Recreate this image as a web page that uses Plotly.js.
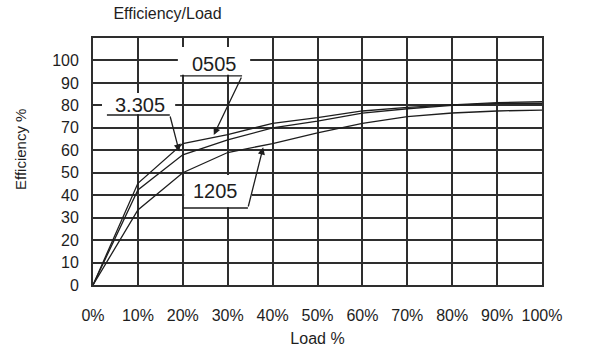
<!DOCTYPE html>
<html>
<head>
<meta charset="utf-8">
<script src="https://cdn.plot.ly/plotly-3.0.1.min.js"></script>
<style>html,body{margin:0;padding:0;background:#fff;}#chart{width:589px;height:351px;}</style>
</head>
<body>
<div id="chart"></div>
<script>
// Data
const load = [0, 10, 20, 30, 40, 50, 60, 70, 80, 90, 100];
const eff0505 = [0, 45.3, 63, 67, 72, 74.5, 77.5, 79.1, 80.2, 81.2, 81.6];
const eff3305 = [0, 42.3, 58, 64.6, 70, 73, 76.5, 78.5, 80, 80.9, 80.9];
const eff1205 = [0, 33.4, 50, 59, 63, 67.7, 72, 75, 76.6, 77.5, 77.9];
const seriesNames = ['0505', '3.305', '1205'];
const xTickVals = [0, 10, 20, 30, 40, 50, 60, 70, 80, 90, 100];
const xTickText = ['0%', '10%', '20%', '30%', '40%', '50%', '60%', '70%', '80%', '90%', '100%'];
const yTickVals = [0, 10, 20, 30, 40, 50, 60, 70, 80, 90, 100];

const font = 'Arial, "Liberation Sans", sans-serif';
const ink = '#1e1e1e';
const lineStyle = {color: ink, width: 1.3};

const traces = [eff0505, eff3305, eff1205].map((ys, i) => ({
  type: 'scatter', mode: 'lines', x: load, y: ys, name: seriesNames[i],
  line: lineStyle, hoverinfo: 'skip'
}));

const lineShape = (x0, y0, x1, y1) => ({type: 'line', xref: 'x', yref: 'y', x0, y0, x1, y1, line: {color: ink, width: 1.3}, layer: 'above'});
const whiteBox = (x0, y0, x1, y1) => ({type: 'rect', xref: 'x', yref: 'y', x0, y0, x1, y1, fillcolor: '#ffffff', line: {width: 0}, layer: 'above'});

const shapes = [
  whiteBox(18.9, 93.6, 35.0, 106),
  whiteBox(2.0, 76.0, 18.3, 85.5),
  whiteBox(20.3, 34.6, 35.4, 49.0),
  lineShape(19.4, 93.1, 33.2, 93.1),
  lineShape(3.1, 75.7, 17.1, 75.7),
  lineShape(20.0, 34.3, 34.5, 34.3)
];

const labelAnn = (text, x, y) => ({text, x, y, xref: 'x', yref: 'y', showarrow: false, font: {family: font, size: 20, color: ink}, xanchor: 'center', yanchor: 'middle'});
const arrowAnn = (x, y, ax, ay) => ({text: '', x, y, ax, ay, xref: 'x', yref: 'y', axref: 'x', ayref: 'y', showarrow: true, arrowhead: 2, arrowsize: 1.1, arrowwidth: 1.3, arrowcolor: ink, standoff: 0, startstandoff: 0});

const annotations = [
  labelAnn(seriesNames[0], 27.0, 98.4),
  labelAnn(seriesNames[1], 10.5, 80.0),
  labelAnn(seriesNames[2], 27.3, 42.0),
  arrowAnn(26.9, 66.8, 33.2, 93.1),
  arrowAnn(19.2, 59.5, 17.1, 75.7),
  arrowAnn(37.9, 61.3, 34.5, 34.3),
  {text: 'Efficiency %', xref: 'paper', yref: 'paper', x: (20 - 93) / 449, y: (285 - 150) / 247, textangle: -90, showarrow: false, xanchor: 'center', yanchor: 'middle', font: {family: font, size: 15, color: ink}}
];

const axisCommon = {
  showgrid: true, gridcolor: '#2e2e2e', gridwidth: 1.6,
  showline: true, linecolor: '#2e2e2e', linewidth: 1.8, mirror: true,
  zeroline: false, ticks: '', fixedrange: true,
  tickfont: {family: font, size: 16, color: ink}
};

const layout = {
  width: 589, height: 351,
  margin: {l: 93, r: 47, t: 38, b: 66},
  paper_bgcolor: '#fff', plot_bgcolor: '#fff',
  showlegend: false,
  title: {text: 'Efficiency/Load', font: {family: font, size: 16, color: ink}, xref: 'container', yref: 'container', x: 167.5 / 589, xanchor: 'center', y: 1 - 13 / 351, yanchor: 'middle'},
  xaxis: Object.assign({}, axisCommon, {
    range: [0, 100], tickvals: xTickVals, ticktext: xTickText, ticklabelstandoff: 15,
    title: {text: 'Load %', font: {family: font, size: 16, color: ink}, standoff: 10}
  }),
  yaxis: Object.assign({}, axisCommon, {
    range: [0, 110], tickvals: yTickVals, ticklabelstandoff: 9
  }),
  shapes, annotations
};

Plotly.newPlot('chart', traces, layout, {displayModeBar: false, responsive: false});
</script>
</body>
</html>
